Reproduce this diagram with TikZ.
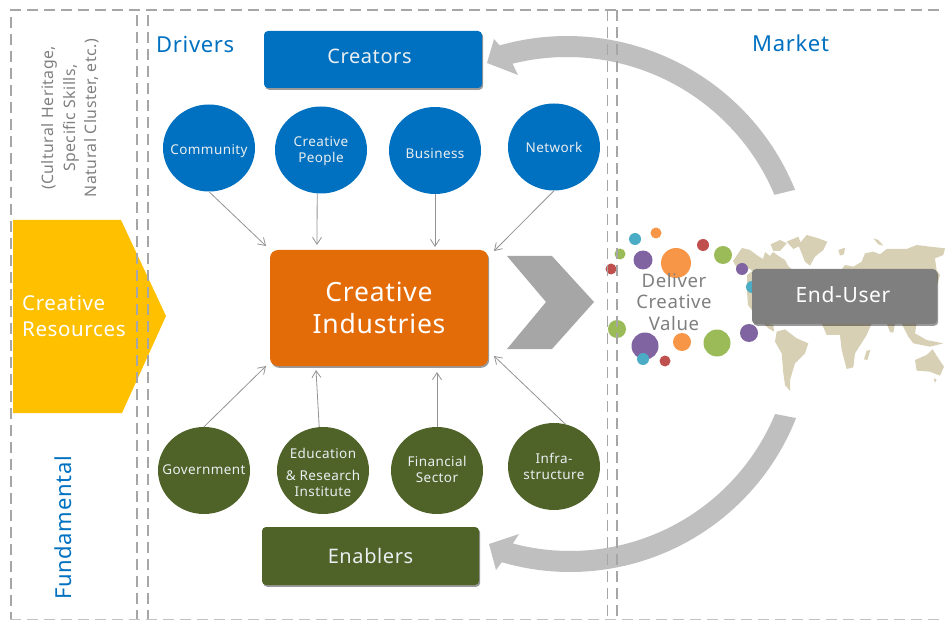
\documentclass[tikz,border=0pt]{standalone}
\usepackage{fontspec}
\setmainfont[LetterSpace=3]{Noto Sans}
\usetikzlibrary{arrows.meta,shapes.geometric,shadows}
\definecolor{dblue}{HTML}{0070C0}
\definecolor{dgreen}{HTML}{4F6228}
\definecolor{dorange}{HTML}{E36C09}
\definecolor{dyellow}{HTML}{FFC000}
\definecolor{arcgray}{HTML}{BFBFBF}
\definecolor{dashgray}{HTML}{A6A6A6}
\definecolor{midgray}{HTML}{7F7F7F}
\definecolor{mapbeige}{HTML}{D7D0B5}
\definecolor{softwhite}{HTML}{E9EEF0}
\definecolor{dotred}{HTML}{C0504D}
\definecolor{dotgreen}{HTML}{9BBB59}
\definecolor{dotpurple}{HTML}{8064A2}
\definecolor{dotcyan}{HTML}{4BACC6}
\definecolor{dotorange}{HTML}{F79646}
\newcommand{\fsz}[1]{\fontsize{#1}{#1}\selectfont}
\tikzset{
  shad/.style={drop shadow={shadow xshift=1.2pt,shadow yshift=-1.8pt,opacity=.4,fill=black}},
  bigbox/.style={rectangle,rounded corners=4pt,inner sep=0pt,shad,text=softwhite,align=center},
  bubble/.style={ellipse,inner sep=0pt,minimum width=92pt,minimum height=87pt},
  blubble/.style={bubble,fill=dblue},
  grubble/.style={bubble,fill=dgreen},
  btext/.style={text=softwhite,align=center,font=\fsz{13.5},inner sep=0pt},
  link/.style={draw=gray!85,line width=.8pt,-{Straight Barb[length=7pt,width=9pt]}},
  guide/.style={draw=dashgray,line width=1.5pt,dash pattern=on 11pt off 6pt},
  dot/.style={circle,inner sep=0pt,minimum size=#1},
  land/.style={fill=mapbeige},
  title/.style={text=dblue,font=\fsz{22}},
  note/.style={text=midgray,align=center}
}
\newcommand{\bub}[5]{\node[#2] (#1) at (#3) {}; \node[btext,yshift=#4] (#1t) at (#3) {#5};}
\begin{document}
\begin{tikzpicture}[x=1pt,y=-1pt]
\useasboundingbox (0,0) rectangle (945,620);
% world map: North America and the strip beside the grey box, in plain page coordinates
\fill[land] (733,261) -- (737,255) -- (742,248) -- (750,250) -- (758,256) -- (763,259) -- (765,252) -- (770,256) -- (773,252) -- (780,257) -- (785,260) -- (788,266) -- (795,272) -- (753,272) -- (750,269) -- (737,268) -- cycle;
\fill[land] (747,275) -- (754,270) -- (754,313) -- (748,305) -- (747,292) -- cycle;
\begin{scope}[shift={(730,225)},x=.3333pt,y=-.3333pt]
\fill[land] (122,58)--(150,45)--(170,55)--(150,78)--(130,78)--cycle;
\fill[land] (170,50)--(205,35)--(215,60)--(190,72)--cycle;
\fill[land] (205,60)--(230,30)--(265,40)--(292,50)--(280,75)--(255,95)--(240,122)--(225,110)--(215,85)--cycle;
\fill[land] (325,75)--(345,68)--(342,88)--(330,92)--cycle;
\fill[land] (430,40)--(445,45)--(460,62)--(445,58)--cycle;
\fill[land] (330,140)--(345,120)--(370,125)--(395,110)--(405,85)--(430,80)--(450,88)--(470,72)--(530,72)--(560,60)--(600,65)--(645,70)--(640,90)--(615,100)--(620,135)--(630,150)--(622,178)--(610,140)--cycle;
\end{scope}
\begin{scope}[shift={(730,310)},x=.3333pt,y=-.3333pt]
\fill[land] (100,40)--(130,45)--(132,65)--(115,55)--cycle;
\fill[land] (140,65)--(165,58)--(200,85)--(235,100)--(225,130)--(195,160)--(180,210)--(180,243)--(165,225)--(160,190)--(155,130)--(135,95)--cycle;
\fill[land] (275,40)--(425,40)--(410,75)--(375,130)--(370,172)--(350,177)--(335,120)--(330,75)--(290,75)--cycle;
\fill[land] (410,122)--(421,120)--(412,150)--(402,148)--cycle;
\fill[land] (470,40)--(495,40)--(490,68)--(480,66)--cycle;
\fill[land] (515,40)--(560,40)--(555,70)--(590,90)--(640,100)--(600,110)--(550,100)--(535,80)--cycle;
\fill[land] (555,150)--(590,135)--(608,118)--(625,145)--(642,170)--(630,197)--(600,185)--(560,182)--cycle;
\fill[land] (611,205)--(620,208)--(615,219)--cycle;
\end{scope}
% bubbles of colour
\node[dot=12pt,fill=dotcyan] (d1) at (635,239) {};
\node[dot=11pt,fill=dotorange] (d2) at (656,233) {};
\node[dot=11pt,fill=dotgreen] (d3) at (620,254) {};
\node[dot=19pt,fill=dotpurple] (d4) at (643,260) {};
\node[dot=30pt,fill=dotorange] (d5) at (676,263) {};
\node[dot=12pt,fill=dotred] (d6) at (703,245) {};
\node[dot=18pt,fill=dotgreen] (d7) at (723,255) {};
\node[dot=11pt,fill=dotred] (d8) at (611,269) {};
\node[dot=12pt,fill=dotpurple] (d9) at (742,269) {};
\node[dot=12pt,fill=dotcyan] (d10) at (752,287) {};
\node[dot=18pt,fill=dotgreen] (d11) at (617,329) {};
\node[dot=27pt,fill=dotpurple] (d12) at (645,346) {};
\node[dot=12pt,fill=dotcyan] (d13) at (643,359) {};
\node[dot=18pt,fill=dotorange] (d14) at (682,342) {};
\node[dot=11pt,fill=dotred] (d15) at (665,361) {};
\node[dot=27pt,fill=dotgreen] (d16) at (717,343) {};
\node[dot=18pt,fill=dotpurple] (d17) at (749,333) {};
% big curved arrows
\begin{scope}[shift={(567,282)}]
\fill[arcgray] plot[domain=-22:-105.9,samples=50] ({246*cos(\x)},{246*sin(\x)})
  -- (-73,-243) -- (-80,-219) -- (-49,-207)
  -- plot[domain=-104:-22.8,samples=50] ({225*cos(\x)},{225*sin(\x)}) -- cycle;
\end{scope}
\begin{scope}[shift={(570,329)}]
\fill[arcgray] plot[domain=21.5:106.3,samples=50] ({243*cos(\x)},{243*sin(\x)})
  -- (-74,241) -- (-81,215) -- (-51,205)
  -- plot[domain=104.9:22.5,samples=50] ({222*cos(\x)},{222*sin(\x)}) -- cycle;
\end{scope}
% yellow pentagon
\fill[dyellow] (13,220) -- (121,220) -- (166,316) -- (122,413) -- (13,413) -- cycle;
\node[anchor=west,text=white,align=left,font=\fsz{20.5},inner sep=0pt] (res) at (22,316) {Creative\\[5.5pt]Resources};
% dashed guides
\draw[guide] (10,10) -- (945,10);
\draw[guide] (11,17) -- (11,620);
\draw[guide] (137,15) -- (137,620);
\draw[guide] (148,15) -- (148,620);
\draw[guide] (607.5,10) -- (607.5,620);
\draw[guide] (617,10) -- (617,620);
\draw[draw=dashgray!70,line width=1pt,dash pattern=on 11pt off 6pt] (10,619.3) -- (945,619.3);
% titles
\node[title,anchor=west,inner sep=0pt] (drv) at (156,45) {Drivers};
\node[title,anchor=west,inner sep=0pt] (mkt) at (752,43.5) {Market};
\node[title,rotate=90] (fun) at (63,528) {Fundamental};
\node[note,rotate=90,font=\fsz{15.8}] (her) at (70,118) {(Cultural Heritage,\\[5pt]Specific Skills,\\[5pt]Natural Cluster, etc.)};
% boxes
\node[bigbox,fill=dblue,minimum width=218pt,minimum height=57pt] (cre) at (373,59.5) {};
\node[text=softwhite,font=\fsz{20}] (cret) at (369.5,56.5) {Creators};
\node[bigbox,fill=dgreen,minimum width=217pt,minimum height=58pt,font=\fsz{20}] (ena) at (370.5,556) {Enablers};
\node[bigbox,fill=dorange,rounded corners=8pt,text=white,minimum width=218pt,minimum height=116pt,font=\fsz{26.5}] (ci) at (379,308) {Creative\\[5.5pt]Industries};
\node[bigbox,fill=midgray,minimum width=185pt,minimum height=55pt] (eu) at (844.5,296.5) {};
\node[text=white,font=\fsz{21}] (eut) at (843,294.5) {End-User};
\node[note,font=\fsz{18.6}] (dcv) at (674,302) {Deliver\\[2.5pt]Creative\\[2.5pt]Value};
% chevron
\fill[dashgray] (507,256) -- (552,256) -- (594,302) -- (552,349) -- (507,349) -- (546,302) -- cycle;
% circles
\bub{com}{blubble}{209,148}{-3pt}{Community}
\bub{cp}{blubble}{321,150}{-1.5pt}{Creative\\[2.5pt]People}
\bub{bus}{blubble}{435,150.5}{-3.5pt}{Business}
\bub{net}{blubble}{554,147}{0pt}{Network}
\bub{gov}{grubble}{204,470.5}{1pt}{Government}
\bub{edu}{grubble}{323,470.5}{-2pt}{Education\\[8pt]\& Research\\[2.5pt]Institute}
\bub{fin}{grubble}{437,470.5}{1pt}{Financial\\[2.5pt]Sector}
\bub{inf}{grubble}{554,466.5}{0pt}{Infra-\\[2.5pt]structure}
% arrow targets on the centre box
\coordinate (t1) at (266,246);
\coordinate (t2) at (317,245);
\coordinate (t3) at (435,247);
\coordinate (t4) at (494,251);
\coordinate (t5) at (266,366);
\coordinate (t6) at (316,370);
\coordinate (t7) at (437,372);
\coordinate (t8) at (494,356);
\draw[link] (com.south) -- (t1);
\draw[link] (cp.-95) -- (t2);
\draw[link] (bus.south) -- (t3);
\draw[link] (net.south) -- (t4);
\draw[link] (gov.north) -- (t5);
\draw[link] (edu.95) -- (t6);
\draw[link] (fin.north) -- (t7);
\draw[link] (inf.75) -- (t8);
\end{tikzpicture}
\end{document}
